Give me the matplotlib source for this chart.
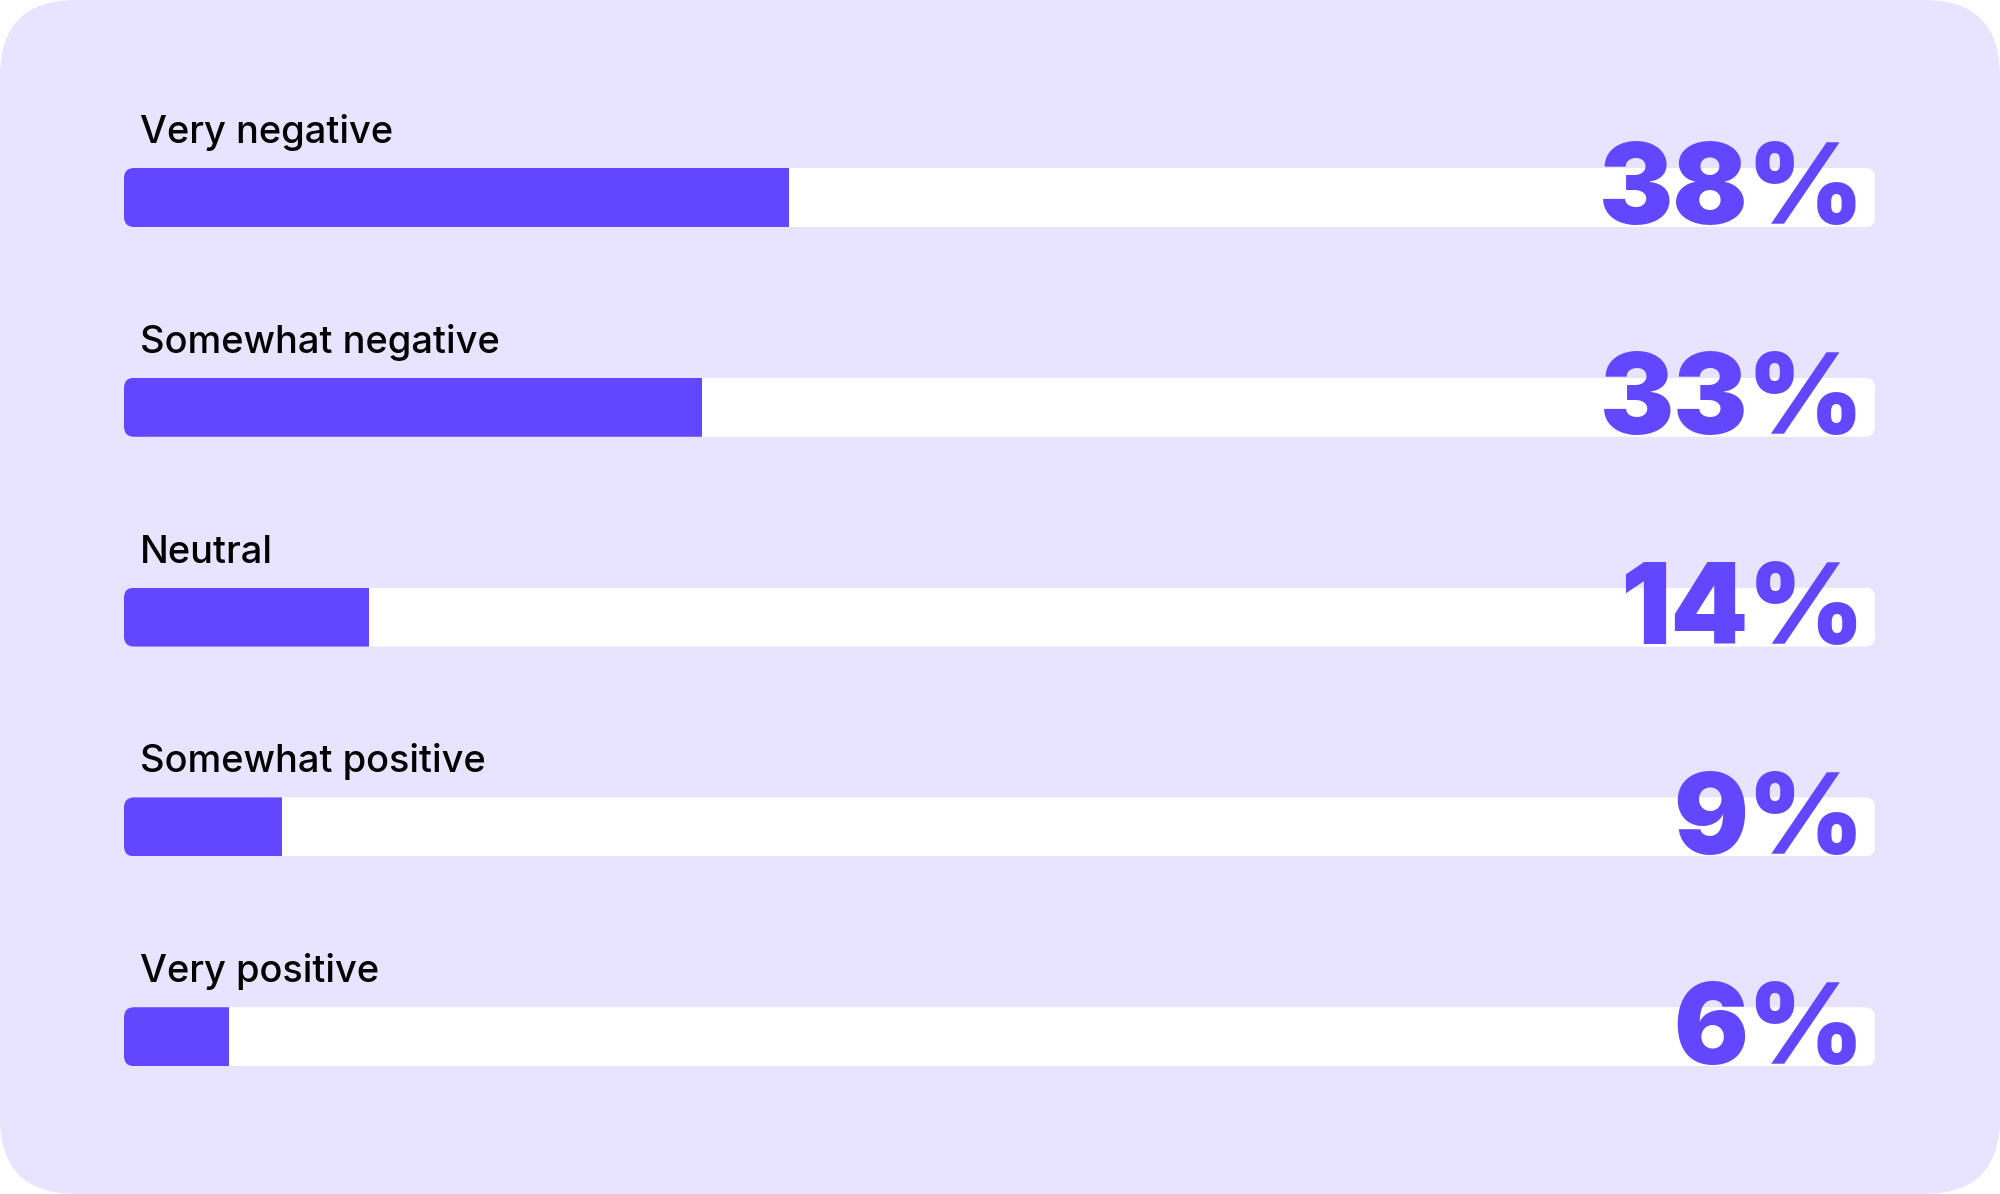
import matplotlib
matplotlib.use('Agg')
import matplotlib.pyplot as plt
from matplotlib.patches import FancyBboxPatch

categories = ["Very negative", "Somewhat negative", "Neutral", "Somewhat positive", "Very positive"]
values = [38, 33, 14, 9, 6]
value_labels = ["38%", "33%", "14%", "9%", "6%"]

PURPLE = '#6347FF'
BG = '#E8E4FF'
W, H = 2000, 1194

fig = plt.figure(figsize=(20, 11.94), dpi=100)
fig.patch.set_facecolor('white')

# background rounded panel (pixel coordinates)
bgax = fig.add_axes([0, 0, 1, 1])
bgax.set_xlim(0, W)
bgax.set_ylim(0, H)
bgax.axis('off')
bgax.add_patch(FancyBboxPatch((0, 0), W, H, boxstyle="round,pad=0,rounding_size=76",
                              facecolor=BG, edgecolor='none'))

# main axes
ax_left_px, ax_right_px = 124, 1875
c0, cN = 197.5, 1036.7
n = len(categories)
step = (cN - c0) / (n - 1)
top_px = c0 - step / 2
bot_px = cN + step / 2
ax = fig.add_axes([ax_left_px / W, (H - bot_px) / H, (ax_right_px - ax_left_px) / W, (bot_px - top_px) / H])
ax.set_xlim(0, 100)
ax.set_ylim(n - 0.5, -0.5)
ax.axis('off')

px_x = (ax_right_px - ax_left_px) / 100.0
px_y = step
bar_h = 59 / px_y
r_px = 10
r_x = r_px / px_x
aspect = px_x / px_y

ys = list(range(n))
track = ax.barh(ys, [100] * n, height=bar_h, color='white', edgecolor='none')
fill = ax.barh(ys, values, height=bar_h, color=PURPLE, edgecolor='none')

for i, y in enumerate(ys):
    clip = FancyBboxPatch((0, y - bar_h / 2), 100, bar_h,
                          boxstyle=f"round,pad=0,rounding_size={r_x}",
                          mutation_aspect=aspect, transform=ax.transData,
                          facecolor='none', edgecolor='none')
    track[i].set_clip_path(clip)
    fill[i].set_clip_path(clip)

    ax.text(16.0 / px_x, y - 54.5 / px_y, categories[i], ha='left', va='baseline',
            fontsize=27.4, family=['Inter', 'DejaVu Sans'], fontweight='medium', color='black')
    ax.text(1740 / px_x, y + 27.0 / px_y, value_labels[i], ha='right', va='baseline',
            fontsize=80, family=['Inter', 'DejaVu Sans'], fontweight='black', color=PURPLE)

fig.savefig('out.png', dpi=100, facecolor='white')
